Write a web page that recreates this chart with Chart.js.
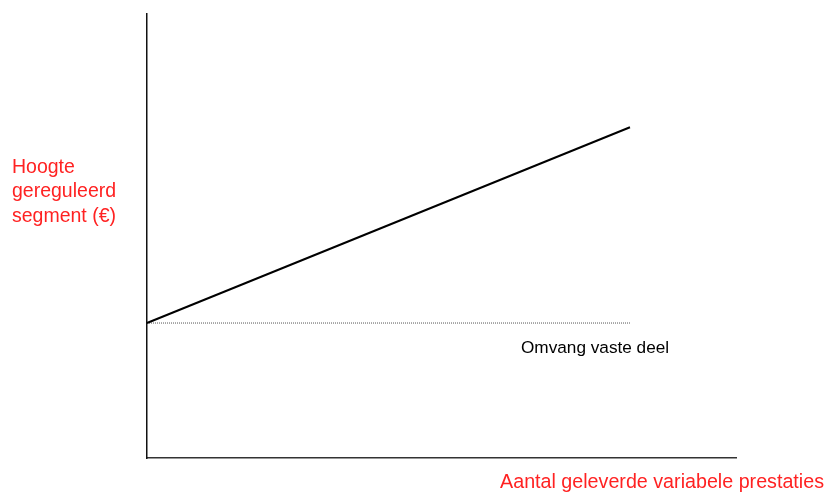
<!DOCTYPE html>
<html>
<head>
<meta charset="utf-8">
<script src="https://cdn.jsdelivr.net/npm/chart.js@4/dist/chart.umd.min.js"></script>
<style>
  html, body { margin: 0; padding: 0; background: #fff; }
  #wrap { position: relative; width: 827px; height: 492px; overflow: hidden; font-family: Arial, "Liberation Sans", sans-serif; }
  canvas { position: absolute; left: 0; top: 0; }
  .lbl { position: absolute; white-space: nowrap; }
  #yTitle { left: 12px; top: 154px; color: #f22; font-size: 19.5px; line-height: 24.4px; }
  #xTitle { right: 3px; top: 470px; color: #f22; font-size: 19.7px; }
  #fixedLbl { left: 521px; top: 337px; color: #000; font-size: 17.2px; }
</style>
</head>
<body>
<div id="wrap">
  <canvas id="chart" width="827" height="492"></canvas>
  <div class="lbl" id="yTitle">Hoogte<br>gereguleerd<br>segment (€)</div>
  <div class="lbl" id="xTitle">Aantal geleverde variabele prestaties</div>
  <div class="lbl" id="fixedLbl">Omvang vaste deel</div>
</div>
<script>
// Data (axis units 0-100, no ticks shown)
const xValues = [0, 82];
const totalLine = [30.4, 74.5];   // fixed part + variable part
const fixedLine = [30.4, 30.4];   // fixed part only

const toPoints = ys => xValues.map((x, i) => ({ x: x, y: ys[i] }));

new Chart(document.getElementById('chart'), {
    type: 'line',
    data: {
        datasets: [
            { data: toPoints(totalLine), borderColor: '#000', borderWidth: 2, pointRadius: 0, clip: false },
            { data: toPoints(fixedLine), borderColor: '#555', borderWidth: 1, borderDash: [1, 1], pointRadius: 0, clip: false }
        ]
    },
    options: {
        responsive: false,
        animation: false,
        layout: { padding: { left: 147, right: 91, top: 14, bottom: 34 } },
        plugins: { legend: { display: false }, tooltip: { enabled: false } },
        scales: {
            x: {
                type: 'linear', min: 0, max: 100,
                ticks: { display: false },
                grid: { display: false, drawTicks: false },
                border: { display: true, color: '#333', width: 1.5 }
            },
            y: {
                min: 0, max: 100,
                ticks: { display: false },
                grid: { display: false, drawTicks: false },
                border: { display: true, color: '#111', width: 1.5 }
            }
        }
    }
});
</script>
</body>
</html>
